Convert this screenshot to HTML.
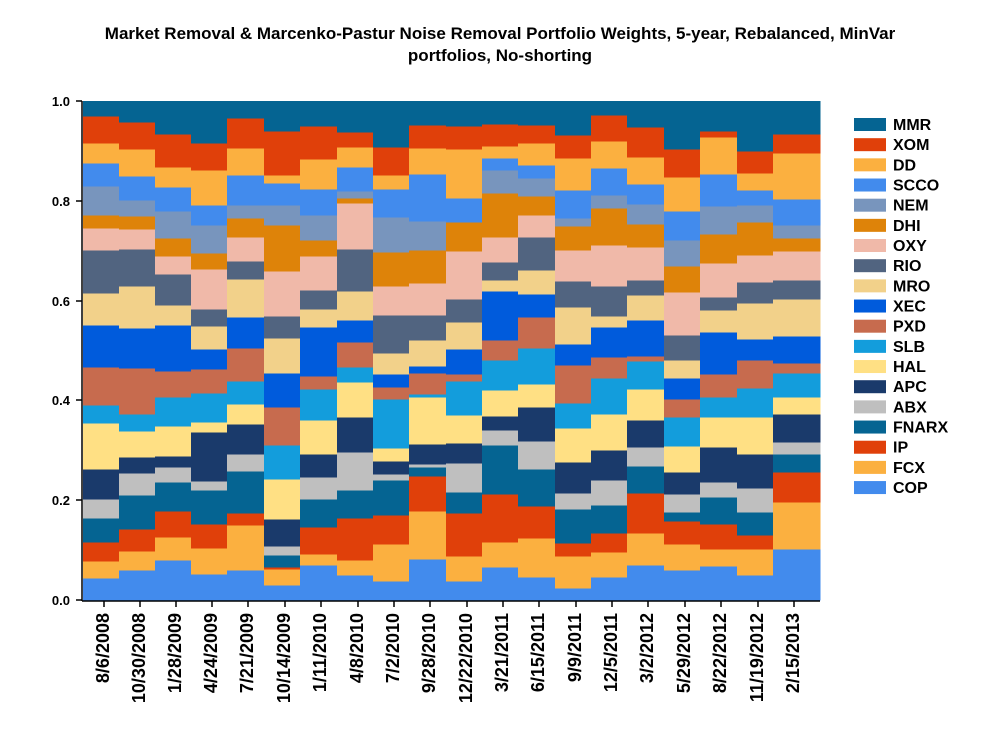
<!DOCTYPE html>
<html><head><meta charset="utf-8"><style>
body{margin:0;background:#fff;}
svg text{font-family:"Liberation Sans",Arial,sans-serif;font-weight:bold;}
</style></head><body>
<svg id="s" width="1000" height="750" xmlns="http://www.w3.org/2000/svg">
<rect width="1000" height="750" fill="#fff"/>
<text x="500" y="39" font-size="17" text-anchor="middle">Market Removal &amp; Marcenko-Pastur Noise Removal Portfolio Weights, 5-year, Rebalanced, MinVar</text>
<text x="500" y="61" font-size="17" text-anchor="middle">portfolios, No-shorting</text>
<g id="bars"></g>
<g stroke="#000" stroke-width="1.5">
<line x1="82" y1="101" x2="82" y2="601"/>
<line x1="82" y1="601" x2="820" y2="601"/>
<line x1="76" y1="101" x2="82" y2="101"/><line x1="76" y1="201" x2="82" y2="201"/><line x1="76" y1="301" x2="82" y2="301"/><line x1="76" y1="400" x2="82" y2="400"/><line x1="76" y1="500" x2="82" y2="500"/><line x1="76" y1="600" x2="82" y2="600"/>
</g>
<g font-size="13" text-anchor="end">
<text x="70" y="106">1.0</text><text x="70" y="206">0.8</text><text x="70" y="306">0.6</text><text x="70" y="405">0.4</text><text x="70" y="505">0.2</text><text x="70" y="605">0.0</text>
</g>
<g id="xt"></g>
<g id="leg" font-size="16"></g>
</svg>
<script>
var cols=["#428bed","#fbb040","#e0400a","#056492","#bfbfbf","#1a3a6b","#ffe084","#139ddc","#c76b4e","#005bdc","#f2d18a","#516480","#f0b9a9","#de8309","#7895bd","#428bed","#fbb040","#e0400a","#056492"];
var names=["COP","FCX","IP","FNARX","ABX","APC","HAL","SLB","PXD","XEC","MRO","RIO","OXY","DHI","NEM","SCCO","DD","XOM","MMR"];
var D=[
[578,561,542,518,499,469,423,405,367,325,293,250,228,215,186,163,143,116],
[570,551,529,495,473,457,431,414,368,328,286,249,229,216,200,176,149,122],
[560,537,511,482,467,456,426,397,371,325,305,274,256,238,211,187,167,134],
[574,548,524,490,481,432,422,393,369,349,326,309,269,253,225,205,170,143],
[570,525,513,471,454,424,404,381,348,317,279,261,237,218,205,175,148,118],
[585,569,567,555,546,519,479,445,407,373,338,316,271,225,205,183,175,131],
[565,554,527,499,477,454,420,389,376,327,309,290,256,240,215,189,159,126],
[575,560,518,490,452,417,382,367,342,320,291,249,203,198,191,167,147,132],
[581,544,515,480,474,461,448,399,387,374,353,315,286,252,217,189,175,147],
[559,511,476,467,464,444,397,394,373,366,340,315,283,250,221,174,148,125],
[581,556,513,492,463,443,415,381,374,349,322,299,251,222,222,198,149,126],
[567,542,494,445,430,416,390,360,340,291,280,262,237,193,170,158,146,124],
[577,538,506,469,441,407,384,348,317,294,270,237,215,196,178,165,143,125],
[588,556,543,509,493,462,428,403,365,344,307,281,250,226,218,190,158,135],
[577,552,533,505,480,450,414,378,357,327,316,286,245,208,195,168,141,115],
[565,533,493,466,447,420,389,361,356,320,295,280,247,224,204,184,157,127],
[570,544,521,512,494,472,446,417,399,378,360,335,292,266,240,211,177,149],
[566,549,524,497,482,447,417,397,374,332,310,297,263,234,206,174,137,131],
[575,549,535,512,488,454,417,388,360,339,303,282,255,222,205,190,173,151],
[549,502,472,454,442,414,397,373,363,336,299,280,251,238,225,199,153,134]];
var xb=[83,119,155,191,227,264,300,337,373,409,446,482,518,555,591,627,664,700,737,773,820];
var labs=["8/6/2008","10/30/2008","1/28/2009","4/24/2009","7/21/2009","10/14/2009","1/11/2010","4/8/2010","7/2/2010","9/28/2010","12/22/2010","3/21/2011","6/15/2011","9/9/2011","12/5/2011","3/2/2012","5/29/2012","8/22/2012","11/19/2012","2/15/2013"];
var NS="http://www.w3.org/2000/svg",g=document.getElementById("bars"),xt=document.getElementById("xt"),lg=document.getElementById("leg");
function el(t,a,p){var e=document.createElementNS(NS,t);for(var k in a)e.setAttribute(k,a[k]);p.appendChild(e);return e;}
for(var c=0;c<20;c++){var b=[600].concat(D[c]).concat([101]);var x0=xb[c],w=xb[c+1]-x0+0.5;
 for(var i=0;i<19;i++){var y1=b[i+1],y2=b[i];if(y2>y1)el("rect",{x:x0,y:y1,width:w,height:y2-y1+0.5,fill:cols[i]},g);}
 var tx=x0+21;el("line",{x1:tx,y1:601,x2:tx,y2:607,stroke:"#000","stroke-width":1.5},xt);
 var t=el("text",{x:0,y:0,"font-size":"18","text-anchor":"end",transform:"translate("+(tx+5)+",613) rotate(-90)"},xt);t.textContent=labs[c];}
for(var i=18;i>=0;i--){var y=124+(18-i)*20.17;el("rect",{x:854,y:y-6,width:32,height:13,fill:cols[i]},lg);var t=el("text",{x:893,y:y+6},lg);t.textContent=names[i];}
</script>
</body></html>
